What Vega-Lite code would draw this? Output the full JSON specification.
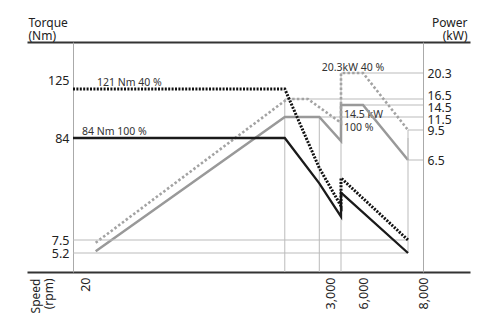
{
  "$schema": "https://vega.github.io/schema/vega-lite/v6.json",
  "width": 443,
  "height": 230,
  "autosize": {"type": "none"},
  "padding": {"left": 27, "top": 42, "right": 13, "bottom": 41},
  "background": "white",
  "config": {
    "view": {"stroke": null},
    "font": "Noto Sans",
    "axis": {"labelFont": "Noto Sans", "labelFontSize": 12.5, "labelColor": "#222", "titleFont": "Noto Sans", "titleFontSize": 12, "titleFontWeight": "normal", "titleColor": "#222", "titleLineHeight": 13, "grid": false, "ticks": false}
  },
  "datasets": {
    "curves": [
      {"s": "t100", "i": 0, "rpm": 0, "v": 84},
      {"s": "t100", "i": 1, "rpm": 2450, "v": 84},
      {"s": "t100", "i": 2, "rpm": 2870, "v": 50},
      {"s": "t100", "i": 3, "rpm": 4000, "v": 25},
      {"s": "t100", "i": 4, "rpm": 4000, "v": 43},
      {"s": "t100", "i": 5, "rpm": 7500, "v": 5.2},
      {"s": "t40", "i": 0, "rpm": 0, "v": 121},
      {"s": "t40", "i": 1, "rpm": 2450, "v": 121},
      {"s": "t40", "i": 2, "rpm": 2870, "v": 61.5},
      {"s": "t40", "i": 3, "rpm": 4000, "v": 33},
      {"s": "t40", "i": 4, "rpm": 4000, "v": 54},
      {"s": "t40", "i": 5, "rpm": 7500, "v": 7.5},
      {"s": "p100", "i": 0, "rpm": 150, "v": 1.2},
      {"s": "p100", "i": 1, "rpm": 2450, "v": 11.5},
      {"s": "p100", "i": 2, "rpm": 2870, "v": 11.5},
      {"s": "p100", "i": 3, "rpm": 4000, "v": 8.4},
      {"s": "p100", "i": 4, "rpm": 4000, "v": 14.5},
      {"s": "p100", "i": 5, "rpm": 6000, "v": 14.5},
      {"s": "p100", "i": 6, "rpm": 7500, "v": 6.5},
      {"s": "p40", "i": 0, "rpm": 150, "v": 1.7},
      {"s": "p40", "i": 1, "rpm": 2480, "v": 16.5},
      {"s": "p40", "i": 2, "rpm": 2730, "v": 16.5},
      {"s": "p40", "i": 3, "rpm": 4000, "v": 10.6},
      {"s": "p40", "i": 4, "rpm": 4000, "v": 20.3},
      {"s": "p40", "i": 5, "rpm": 6000, "v": 20.3},
      {"s": "p40", "i": 6, "rpm": 7500, "v": 9.5}
    ],
    "guidesT": [
      {"rpm": 0, "rpm2": 7500, "v": 7.5, "v2": 7.5},
      {"rpm": 0, "rpm2": 7500, "v": 5.2, "v2": 5.2},
      {"rpm": 7500, "rpm2": 7500, "v": 5.2, "v2": 84}
    ],
    "guidesP": [
      {"rpm": 4000, "rpm2": 8000, "v": 20.3, "v2": 20.3},
      {"rpm": 2450, "rpm2": 8000, "v": 16.5, "v2": 16.5},
      {"rpm": 4000, "rpm2": 8000, "v": 14.5, "v2": 14.5},
      {"rpm": 2870, "rpm2": 8000, "v": 11.5, "v2": 11.5},
      {"rpm": 7500, "rpm2": 8000, "v": 9.5, "v2": 9.5},
      {"rpm": 7500, "rpm2": 8000, "v": 6.5, "v2": 6.5},
      {"rpm": 2450, "rpm2": 2450, "v": 16.5, "v2": 0},
      {"rpm": 2870, "rpm2": 2870, "v": 11.5, "v2": 0},
      {"rpm": 4000, "rpm2": 4000, "v": 20.3, "v2": 0},
      {"rpm": 7500, "rpm2": 7500, "v": 9.5, "v2": 6.5}
    ],
    "notesT": [
      {"label": "121 Nm 40 %", "rpm": 165, "v": 121},
      {"label": "84 Nm 100 %", "rpm": 15, "v": 84}
    ],
    "notesP1": [
      {"label": "20.3kW 40 %", "rpm": 2900, "v": 20.3}
    ],
    "notesP2": [
      {"label": "14.5 kW\n100 %", "rpm": 4270, "v": 14.5}
    ]
  },
  "layer": [
    {
      "encoding": {
        "x": {"field": "rpm", "type": "quantitative",
          "scale": {"domain": [-100, 0, 20, 3000, 6000, 8000, 9000], "range": [0, 46, 58, 303, 336, 396, 443], "nice": false, "zero": false},
          "axis": {"orient": "top", "labels": false, "ticks": false, "title": null, "domainColor": "#333", "domainWidth": 2}},
        "y": {"field": "v", "type": "quantitative",
          "scale": {"domain": [0, 6.5, 9.5, 11.5, 14.5, 16.5, 20.3, 30], "range": [230, 118, 88, 75, 63, 57, 31, 0], "nice": false, "zero": false},
          "axis": {"orient": "right", "offset": -47, "values": [6.5, 9.5, 11.5, 14.5, 16.5, 20.3], "format": ".1~f", "domainColor": "#aaa", "domainWidth": 1, "labelPadding": 4, "labelFontSize": 12.2,
            "labelOffset": {"condition": [{"test": "datum.value === 16.5", "value": -4}, {"test": "datum.value === 14.5", "value": 2}, {"test": "datum.value === 11.5", "value": 2}], "value": 0},
            "labelOverlap": false, "labelFlush": false,
            "title": ["Power", "(kW)"], "titleAngle": 0, "titleAlign": "right", "titleBaseline": "alphabetic", "titleX": 44, "titleY": -16}}
      },
      "layer": [
        {
          "data": {"name": "guidesP"},
          "mark": {"type": "rule", "color": "#bbb", "strokeWidth": 1},
          "encoding": {"x2": {"field": "rpm2"}, "y2": {"field": "v2"}}
        },
        {
          "data": {"name": "notesP1"},
          "mark": {"type": "text", "align": "left", "baseline": "alphabetic", "dy": -2, "fontSize": 10.5, "color": "#333", "font": "Noto Sans"},
          "encoding": {"text": {"field": "label"}}
        },
        {
          "data": {"name": "notesP2"},
          "mark": {"type": "text", "align": "left", "baseline": "top", "dy": 5, "fontSize": 10.5, "color": "#333", "lineBreak": "\n", "lineHeight": 12.5, "font": "Noto Sans"},
          "encoding": {"text": {"field": "label"}}
        },
        {
          "data": {"name": "curves"},
          "transform": [{"filter": "datum.s === 'p100'"}],
          "mark": {"type": "line", "color": "#999", "strokeWidth": 2.5},
          "encoding": {"order": {"field": "i", "type": "quantitative"}}
        },
        {
          "data": {"name": "curves"},
          "transform": [{"filter": "datum.s === 'p40'"}],
          "mark": {"type": "line", "color": "#a3a3a3", "strokeWidth": 2.6, "strokeDash": [2.5, 2.2]},
          "encoding": {"order": {"field": "i", "type": "quantitative"}}
        }
      ]
    },
    {
      "encoding": {
        "x": {"field": "rpm", "type": "quantitative",
          "scale": {"domain": [-100, 0, 20, 3000, 6000, 8000, 9000], "range": [0, 46, 58, 303, 336, 396, 443], "nice": false, "zero": false},
          "axis": {"orient": "bottom", "values": [20, 3000, 6000, 8000], "format": ",.0f", "labelAngle": 270, "labelPadding": 5, "labelOverlap": false, "labelFlush": false,
            "domainColor": "#333", "domainWidth": 2,
            "title": ["Speed", "(rpm)"], "titleAngle": 270, "titleAlign": "right", "titleBaseline": "top", "titleX": 3, "titleY": 6}},
        "y": {"field": "v", "type": "quantitative",
          "scale": {"domain": [0, 5.2, 7.5, 84, 121, 125, 150], "range": [230, 211, 198, 96, 47, 38, 0], "nice": false, "zero": false},
          "axis": {"orient": "left", "offset": -46, "values": [5.2, 7.5, 84, 125], "format": ".1~f", "domainColor": "#aaa", "domainWidth": 1, "labelPadding": 4, "labelOverlap": false, "labelFlush": false,
            "title": ["Torque", "(Nm)"], "titleAngle": 0, "titleAlign": "left", "titleBaseline": "alphabetic", "titleX": -45, "titleY": -16}}
      },
      "layer": [
        {
          "data": {"name": "guidesT"},
          "mark": {"type": "rule", "color": "#bbb", "strokeWidth": 1},
          "encoding": {"x2": {"field": "rpm2"}, "y2": {"field": "v2"}}
        },
        {
          "data": {"name": "notesT"},
          "mark": {"type": "text", "align": "left", "baseline": "alphabetic", "dy": -3, "fontSize": 10.5, "color": "#333", "font": "Noto Sans"},
          "encoding": {"text": {"field": "label"}}
        },
        {
          "data": {"name": "curves"},
          "transform": [{"filter": "datum.s === 't100'"}],
          "mark": {"type": "line", "color": "#1a1a1a", "strokeWidth": 2.3},
          "encoding": {"order": {"field": "i", "type": "quantitative"}}
        },
        {
          "data": {"name": "curves"},
          "transform": [{"filter": "datum.s === 't40'"}],
          "mark": {"type": "line", "color": "#111", "strokeWidth": 3, "strokeDash": [2, 1.4]},
          "encoding": {"order": {"field": "i", "type": "quantitative"}}
        }
      ]
    }
  ],
  "resolve": {"scale": {"y": "independent"}, "axis": {"x": "independent", "y": "independent"}}
}
